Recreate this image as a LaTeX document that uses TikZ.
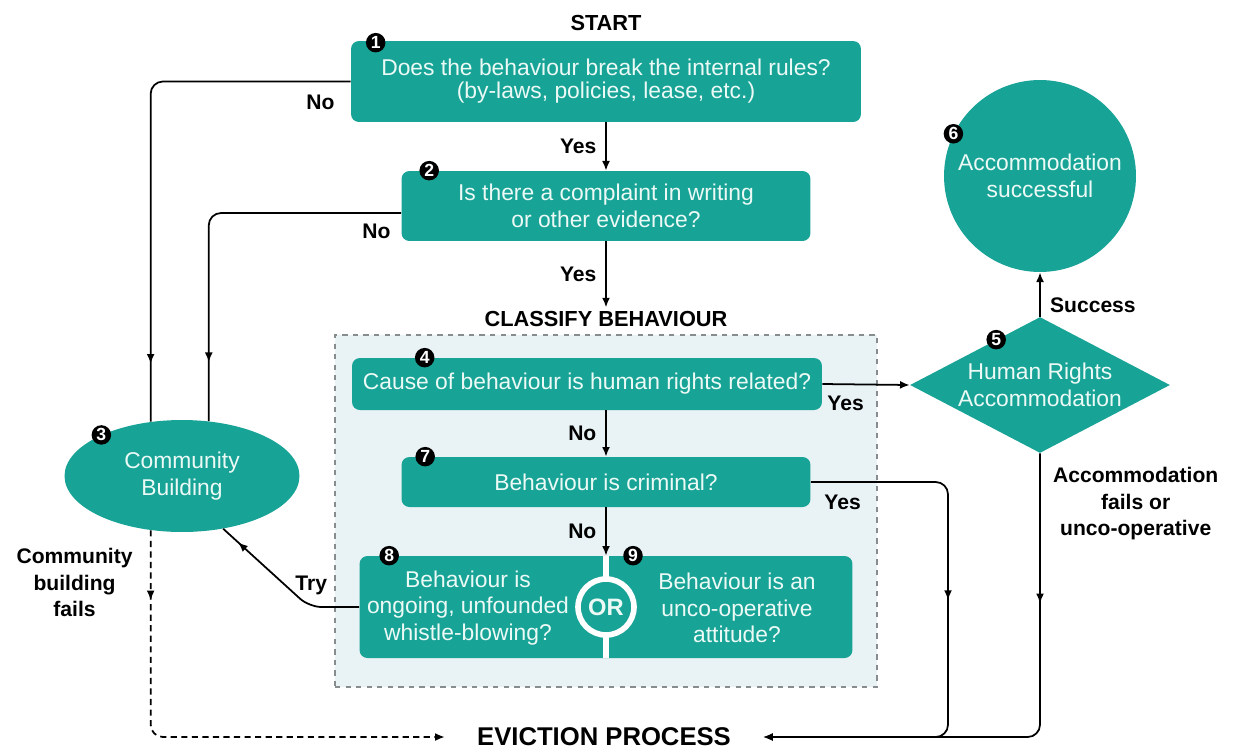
\documentclass[tikz,border=0pt]{standalone}
\usepackage{fontspec}
\setmainfont{Liberation Sans}
\usetikzlibrary{arrows.meta,positioning,shapes.geometric,decorations.markings}

\definecolor{flowteal}{RGB}{24,163,151}
\definecolor{boxtext}{RGB}{236,250,246}
\definecolor{groupfill}{RGB}{233,243,245}
\definecolor{groupline}{RGB}{135,140,142}
\newcommand{\flowbody}{\fontsize{13}{15}\selectfont}
\newcommand{\flowlbl}{\fontsize{12}{15}\selectfont\bfseries}

\begin{document}
\begin{tikzpicture}[x=0.02cm, y=-0.02cm, >={Latex[length=5.5pt,width=4.5pt]},
  qbox/.style={fill=flowteal, rounded corners=4.5pt, text=boxtext, align=center, font=\flowbody, inner sep=0pt},
  qtext/.style={text=boxtext, align=center, font=\flowbody, inner sep=0pt},
  ell/.style={ellipse, fill=flowteal, text=boxtext, align=center, font=\flowbody, inner sep=0pt},
  badge/.style={circle, fill=black, text=white, font=\fontsize{10}{10}\selectfont\bfseries, inner sep=0pt, minimum size=0.39cm},
  orring/.style={circle, fill=flowteal, draw=white, line width=3.2pt, minimum size=1.12cm, inner sep=0pt, text=boxtext, font=\fontsize{13.5}{14}\selectfont\bfseries},
  groupbox/.style={draw=groupline, dashed, line width=0.7pt, fill=groupfill, inner sep=0pt},
  lbl/.style={font=\flowlbl, align=center, inner sep=1pt},
  head/.style={font=\fontsize{12.4}{14}\selectfont\bfseries, inner sep=2pt},
  flow/.style={draw, line width=1pt, rounded corners=7pt},
  faildash/.style={dash pattern=on 3.5pt off 2.5pt},
  midtip/.style={postaction={decorate}, decoration={markings, mark=at position #1 with {\arrow{Latex[length=5.5pt,width=4.5pt]}}}}]
  \useasboundingbox (0,0) rectangle (1237,751);

  \node[groupbox, minimum width=10.84cm, minimum height=7.04cm] (group) at (606,511) {};

  \node[head] (start) at (606,23) {START};
  \node[qbox, minimum width=10.2cm, minimum height=1.62cm] (q1) at (606,81.5) {Does the behaviour break the internal rules?\\[-2pt](by-laws, policies, lease, etc.)};
  \node[qbox, minimum width=8.18cm, minimum height=1.4cm] (q2) at (606,206) {Is there a complaint in writing\\or other evidence?};
  \node[head] (classify) at (606,319) {CLASSIFY BEHAVIOUR};
  \node[qbox, minimum width=9.4cm, minimum height=1.04cm] (q4) at (587,384) {Cause of behaviour is human rights related?};
  \node[qbox, minimum width=8.18cm, minimum height=1.0cm] (q7) at (606,482) {Behaviour is criminal?};
  \node[qbox, minimum width=9.86cm, minimum height=2.04cm] (pair) at (606,607) {};
  \draw[white, line width=3.2pt] (pair.north) -- (pair.south);
  \node[orring] (orc) at (pair.center) {OR};
  \node[qtext] (q8) at (468,608) {Behaviour is\\ongoing, unfounded\\whistle-blowing?};
  \node[qtext] (q9) at (737,608) {Behaviour is an\\unco-operative\\attitude?};
  \node[ell, minimum width=4.7cm, minimum height=2.24cm] (cb) at (182,476) {Community\\Building};
  \node[diamond, fill=flowteal, aspect=1.91, minimum width=5.2cm, minimum height=2.72cm, inner sep=0pt, text=boxtext, align=center, font=\flowbody] (hr) at (1040,385) {Human Rights\\Accommodation};
  \node[circle, fill=flowteal, minimum size=3.84cm, inner sep=0pt, text=boxtext, align=center, font=\flowbody] (ok) at (1040,176) {Accommodation\\successful};
  \node[head, font=\fontsize{14.6}{17}\selectfont\bfseries, inner xsep=0.64cm] (evict) at (604,737) {EVICTION PROCESS};
  \coordinate (crimdrop) at (948,737);

  \node[badge] (b1) at ([xshift=0.5cm, yshift=-0.04cm]q1.north west) {1};
  \node[badge] (b2) at ([xshift=0.56cm]q2.north west) {2};
  \node[badge] (b3) at (cb.153) {3};
  \node[badge] (b4) at ([xshift=1.46cm]q4.north west) {4};
  \node[badge] (b5) at (hr.134) {5};
  \node[badge] (b6) at (ok.154) {6};
  \node[badge] (b7) at ([xshift=0.48cm]q7.north west) {7};
  \node[badge] (b8) at ([xshift=0.6cm]pair.north west) {8};
  \node[badge] (b9) at ([xshift=0.54cm]pair.north) {9};

  \draw[flow, ->] (q1) -- node[lbl, left=0.14cm] (yes1) {Yes} (q2);
  \draw[flow, ->] (q2) -- node[lbl, left=0.14cm] (yes2) {Yes} (classify);
  \draw[flow, ->] (q4.south -| q7.north) -- node[lbl, left=0.14cm] (no4) {No} (q7.north);
  \draw[flow, ->] (q7) -- node[lbl, left=0.14cm] (no7) {No} (pair);
  \draw[flow, ->] (q4.east) -- (hr.west);
  \draw[flow, ->] (hr) -- (ok);
  \draw[flow, midtip=-1.16cm] (q1.west) -| (cb.120);
  \draw[flow, midtip=-1.18cm] ([yshift=-0.14cm]q2.west) -| (cb.64);
  \draw[flow, midtip=-0.4cm] (pair.west) -- ++(-50,0) -- (cb.308);
  \draw[flow, faildash, ->, midtip=1.4cm] (cb.240) |- (evict.west);
  \draw[flow, ->, midtip=5.0cm] (q7.east) -| (crimdrop) -- (evict.east);
  \draw[flow, ->, midtip=3.0cm] (hr.south) |- (evict.east);

  \node[lbl, below left=0.23cm and 0.28cm of q1.west] (no1) {No};
  \node[lbl, below left=0.32cm and 0.17cm of q2.west] (no2) {No};
  \node[lbl, below right=0.2cm and 0.06cm of q4.east] (yes4) {Yes};
  \node[lbl, below right=0.22cm and 0.23cm of q7.east] (yes7) {Yes};
  \node[lbl, above left=0.2cm and 0.6cm of pair.west] (try) {Try};
  \node[lbl, above right=0.03cm and 0.16cm of hr.north] (success) {Success};
  \node[lbl, below right=0.24cm and 0.22cm of hr.south] (fails) {Accommodation\\fails or\\unco-operative};
  \node[lbl, below left=0.32cm and 0.32cm of cb.240] (cbfails) {Community\\building\\fails};
\end{tikzpicture}
\end{document}
